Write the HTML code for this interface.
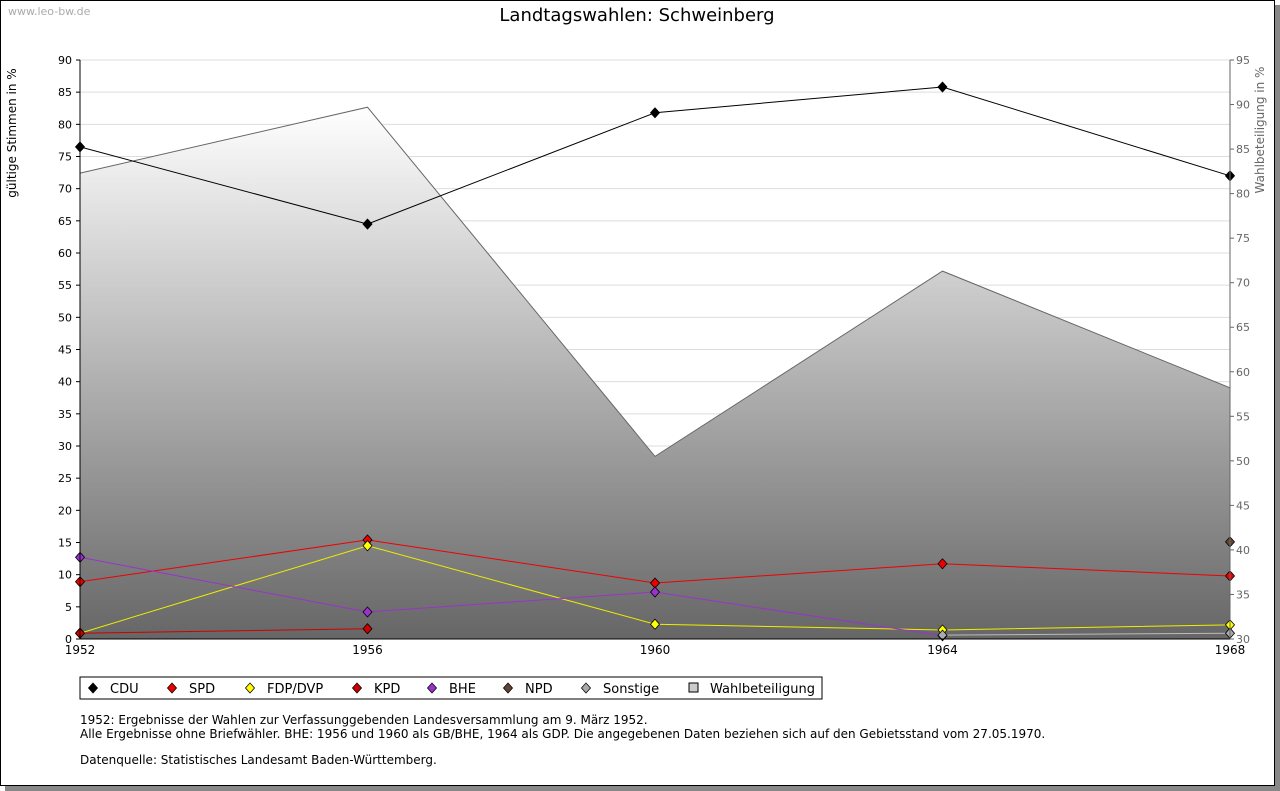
<!DOCTYPE html>
<html><head><meta charset="utf-8"><style>
body{margin:0;background:#fff;font-family:"DejaVu Sans",sans-serif;}
#frame{position:absolute;left:0;top:0;width:1273px;height:784px;border:1px solid #000;box-shadow:5px 5px 0 #888;background:#fff}
svg{position:absolute;left:0;top:0;font-family:"DejaVu Sans",sans-serif}
</style></head><body>
<div id="frame"></div>
<svg id="c" width="1280" height="791">
<defs><linearGradient id="g" x1="0" y1="0" x2="0" y2="1"><stop offset="0" stop-color="#ffffff"/><stop offset="1" stop-color="#666"/></linearGradient></defs>
<text x="8" y="15" font-size="11" fill="#aaa">www.leo-bw.de</text>
<text x="637" y="21" font-size="18" text-anchor="middle">Landtagswahlen: Schweinberg</text>
<text transform="translate(16,133) rotate(-90)" font-size="12" text-anchor="middle">gültige Stimmen in %</text>
<text transform="translate(1264,130) rotate(-90)" font-size="12" fill="#666" text-anchor="middle">Wahlbeteiligung in %</text>
<g id="grid"></g><g id="area"></g><g id="series"></g><g id="axes"></g>
<g>
<rect x="80" y="677" width="742" height="22" fill="#fff" stroke="#000"/>
<g id="legend"></g></g>
<text font-size="12"><tspan x="80" y="724">1952: Ergebnisse der Wahlen zur Verfassunggebenden Landesversammlung am 9. März 1952.</tspan><tspan x="80" y="738">Alle Ergebnisse ohne Briefwähler. BHE: 1956 und 1960 als GB/BHE, 1964 als GDP. Die angegebenen Daten beziehen sich auf den Gebietsstand vom 27.05.1970.</tspan><tspan x="80" y="764">Datenquelle: Statistisches Landesamt Baden-Württemberg.</tspan></text>
</svg>
<script>
const years=[1952,1956,1960,1964,1968];
const turnout=[82.3,89.7,50.5,71.3,58.2];
const cdu=[76.5,64.5,81.8,85.8,72.0];
const spd=[8.9,15.4,8.7,11.7,9.8];
const fdp=[0.9,14.5,2.3,1.4,2.2];
const kpd=[0.9,1.6,null,null,null];
const bhe=[12.7,4.2,7.3,0.5,null];
const npd=[null,null,null,null,15.1];
const sonst=[null,null,null,0.6,0.9];
const leftTicks=[0,5,10,15,20,25,30,35,40,45,50,55,60,65,70,75,80,85,90];
const rightTicks=[30,35,40,45,50,55,60,65,70,75,80,85,90,95];
const NS='http://www.w3.org/2000/svg';
const X=y=>80+(y-1952)/16*1150, Y=v=>639-v/90*579, Y2=v=>639-(v-30)/65*579;
function mk(p,t,a){const e=document.createElementNS(NS,t);for(const k in a)e.setAttribute(k,a[k]);document.getElementById(p).appendChild(e);return e;}
function dia(x,y){return `M${x},${y-5}Q${x+1},${y-4} ${x+4.5},${y}Q${x+1},${y+4} ${x},${y+5}Q${x-1},${y+4} ${x-4.5},${y}Q${x-1},${y-4} ${x},${y-5}z`;}
leftTicks.forEach(t=>{
 const l=mk('grid','line',{x1:80,x2:1230,y1:Y(t),y2:Y(t),stroke:'#ddd'});
 
 const s=mk('axes','text',{x:72,y:Y(t)+4,'font-size':11,'text-anchor':'end'});s.textContent=t;
 
 mk('axes','line',{x1:76,x2:80,y1:Y(t),y2:Y(t),stroke:'#000'});
});
rightTicks.forEach(t=>{
 const s=mk('axes','text',{x:1236,y:Y2(t)+4,'font-size':11,fill:'#666'});s.textContent=t;
 
 mk('axes','line',{x1:1230,x2:1234,y1:Y2(t),y2:Y2(t),stroke:'#666'});
});
years.forEach(y=>{
 const s=mk('axes','text',{x:X(y),y:654,'font-size':12,'text-anchor':'middle'});s.textContent=y;
 
});
mk('axes','line',{x1:80,x2:80,y1:60,y2:639,stroke:'#000'});
mk('axes','line',{x1:1230,x2:1230,y1:60,y2:639,stroke:'#666'});
mk('axes','line',{x1:80,x2:1230,y1:639,y2:639,stroke:'#000'});
let d='M'+X(years[0])+',639 '+years.map((y,i)=>'L'+X(y)+','+Y2(turnout[i])).join(' ')+' L'+X(years[4])+',639Z';
const ar=mk('area','path',{d:d,fill:'url(#g)'});

mk('area','polyline',{points:years.map((y,i)=>X(y)+','+Y2(turnout[i])).join(' '),fill:'none',stroke:'#666'});
const series=[['cdu',cdu,'#000','#000'],['spd',spd,'#e00','#e00'],['fdp',fdp,'#ee0','#ff0'],['kpd',kpd,'#c00','#c00'],['bhe',bhe,'#93c','#93c'],['npd',npd,'#643','#643'],['sonstige',sonst,'#bbb','#aaa']];
series.forEach(([n,v,c,f])=>{
 const pts=years.map((y,i)=>v[i]==null?null:X(y)+','+Y(v[i])).filter(p=>p);
 const pl=mk('series','polyline',{points:pts.join(' '),fill:'none',stroke:c});
 
 years.forEach((y,i)=>{if(v[i]==null)return;
  const m=mk('series','path',{d:dia(X(y),Y(v[i])),fill:f,stroke:'#000','stroke-width':0.8});
  });
});
const leg=[['CDU','#000',93],['SPD','#e00',172],['FDP/DVP','#ff0',250],['KPD','#c00',357],['BHE','#93c',432],['NPD','#643',508],['Sonstige','#aaa',586]];
leg.forEach(([t,c,x])=>{
 const m=mk('legend','path',{d:dia(x,688),fill:c,stroke:'#000','stroke-width':0.8});
 
 const s=mk('legend','text',{x:x+17,y:693,'font-size':13});s.textContent=t;
 
});
const r=mk('legend','rect',{x:689,y:683,width:9,height:9,fill:'#ccc',stroke:'#000'});

const s=mk('legend','text',{x:710,y:693,'font-size':13});s.textContent='Wahlbeteiligung';

</script>
</body></html>
